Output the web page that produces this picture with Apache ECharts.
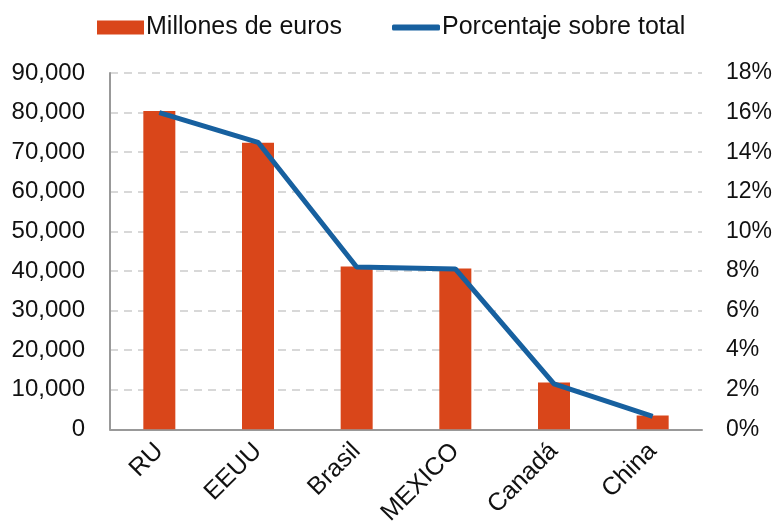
<!DOCTYPE html>
<html>
<head>
<meta charset="utf-8">
<script src="https://cdn.jsdelivr.net/npm/echarts@6/dist/echarts.min.js"></script>
<style>
  html, body { margin: 0; padding: 0; background: #fff; }
  #main { width: 777px; height: 528px; }
</style>
</head>
<body>
<div id="main"></div>
<script>
var categories = ['RU', 'EEUU', 'Brasil', 'MEXICO', 'Canadá', 'China'];
var millones = [80400, 72400, 41100, 40600, 11800, 3500];
var porcentaje = [16.0, 14.5, 8.2, 8.1, 2.3, 0.65];

var chart = echarts.init(document.getElementById('main'));
var txt = { color: '#111', fontFamily: 'Liberation Sans, Arial, sans-serif' };

var option = {
    animation: false,
    textStyle: txt,
    legend: [
        {
            left: 92, top: 10,
            itemWidth: 47, itemHeight: 14, itemGap: 0,
            icon: 'rect',
            textStyle: { fontSize: 25, color: '#111', padding: [0, 0, 0, -3] },
            data: ['Millones de euros']
        },
        {
            left: 387, top: 10,
            itemWidth: 48, itemHeight: 6,
            icon: 'roundRect',
            textStyle: { fontSize: 25, color: '#111', padding: [0, 0, 0, -3] },
            data: ['Porcentaje sobre total']
        }
    ],
    grid: { left: 110, right: 75, top: 73, bottom: 98, containLabel: false },
    xAxis: {
        type: 'category',
        data: categories,
        axisLine: { lineStyle: { color: '#999', width: 2 } },
        axisTick: { show: false },
        axisLabel: { rotate: 45, fontSize: 25, margin: 18, color: '#111' }
    },
    yAxis: [
        {
            type: 'value', min: 0, max: 90000, interval: 10000,
            axisLine: { show: true, lineStyle: { color: '#999', width: 2 } },
            axisTick: { show: false },
            splitLine: { lineStyle: { color: '#ccc', type: [8, 6], width: 1.5 } },
            axisLabel: {
                fontSize: 24, color: '#111', margin: 25,
                formatter: function (v) { return v.toLocaleString('en-US'); }
            }
        },
        {
            type: 'value', min: 0, max: 18, interval: 2,
            axisLine: { show: false },
            axisTick: { show: false },
            splitLine: { show: false },
            axisLabel: { fontSize: 23, color: '#111', margin: 24, formatter: '{value}%' }
        }
    ],
    series: [
        {
            name: 'Millones de euros',
            type: 'bar',
            barWidth: 32,
            itemStyle: { color: '#d9461a' },
            data: millones
        },
        {
            name: 'Porcentaje sobre total',
            type: 'line',
            yAxisIndex: 1,
            symbol: 'none',
            lineStyle: { color: '#17609f', width: 5 },
            itemStyle: { color: '#17609f' },
            data: porcentaje
        }
    ]
};
chart.setOption(option);
</script>
</body>
</html>
